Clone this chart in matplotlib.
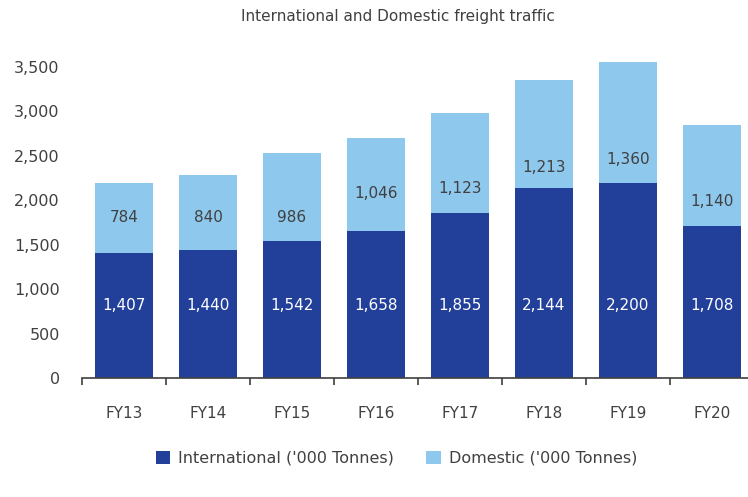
"""
 International and domestic freight traffic, stacked bars
"""
import matplotlib.pyplot as plt
import numpy as np

years = ['FY13', 'FY14', 'FY15', 'FY16', 'FY17', 'FY18', 'FY19', 'FY20']
intl = [1407, 1440, 1542, 1658, 1855, 2144, 2200, 1708]
dom = [784, 840, 986, 1046, 1123, 1213, 1360, 1140]

# label heights (data units) as placed in the original
intl_lab_y = [820] * 8
dom_lab_y = [1809, 1809, 1809, 2079, 2135, 2371, 2461, 1989]

c_intl = '#22409a'
c_dom = '#8ec8ec'
tc = '#404040'

plt.rcParams['font.family'] = ['DejaVu Sans']

fig = plt.figure(figsize=(7.48, 4.97), dpi=100)
ax = fig.add_axes([0.1096, 0.2394, 0.8984, 0.6526])

x = np.arange(len(years))
w = 0.68
ax.bar(x, intl, w, color=c_intl, label="International ('000 Tonnes)")
ax.bar(x, dom, w, bottom=intl, color=c_dom, label="Domestic ('000 Tonnes)")

for i in range(len(years)):
    ax.text(x[i], intl_lab_y[i], f'{intl[i]:,}', ha='center', va='center',
            color='white', fontsize=11)
    ax.text(x[i], dom_lab_y[i], f'{dom[i]:,}', ha='center', va='center',
            color=tc, fontsize=11)

ax.set_xlim(-0.5, 7.5)
ax.set_ylim(0, 3650)
ax.set_yticks(np.arange(0, 3501, 500))
ax.set_yticklabels([f'{v:,}' for v in range(0, 3501, 500)])
ax.set_xticks(x)
ax.set_xticklabels(years)
ax.set_xticks(np.arange(-0.5, 8, 1), minor=True)
ax.tick_params(axis='x', which='major', length=0, pad=20, labelsize=11, colors=tc)
ax.tick_params(axis='x', which='minor', length=5, width=1.2, color=tc)
ax.tick_params(axis='y', length=0, pad=16, labelsize=11.5, colors=tc)
for s in ['top', 'right', 'left']:
    ax.spines[s].set_visible(False)
ax.spines['bottom'].set_color(tc)
ax.spines['bottom'].set_linewidth(1.2)

fig.text(0.532, 0.966, 'International and Domestic freight traffic',
         ha='center', va='center', fontsize=11, color=tc)

fig.legend(loc='center', bbox_to_anchor=(0.53, 0.078), ncol=2, frameon=False,
           fontsize=11.5, handlelength=0.9, handleheight=0.9, columnspacing=2.0,
           handletextpad=0.5, labelcolor=tc)

fig.savefig('out.png', dpi=100)
